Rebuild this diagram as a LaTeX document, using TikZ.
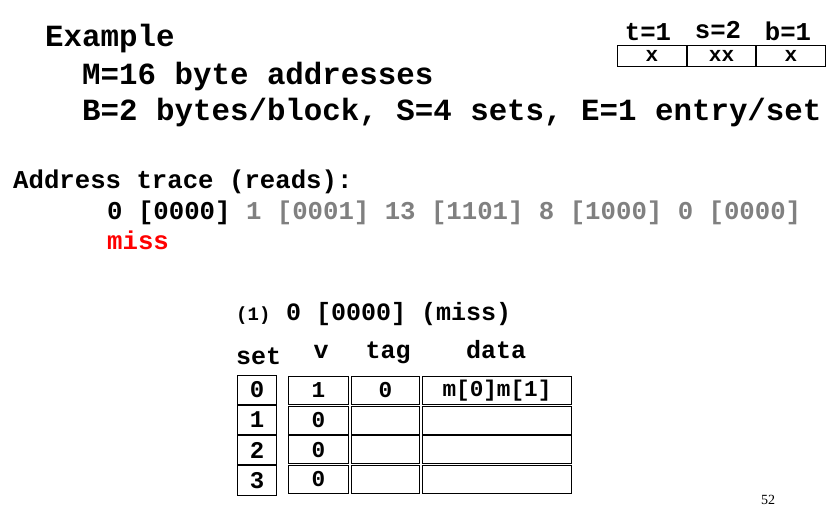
\documentclass[tikz,border=0pt]{standalone}
\usepackage{fontspec}
\setmainfont{Liberation Serif}
\setmonofont{Liberation Mono}
\usepackage{xcolor}
\usetikzlibrary{positioning}
\definecolor{tracegray}{RGB}{128,128,128}
\definecolor{missred}{RGB}{255,0,0}
\newcommand{\mono}[1]{\fontsize{#1}{#1}\selectfont\ttfamily\bfseries}
\tikzset{
  heading/.style={anchor=base west,inner sep=0pt,font=\mono{30.8}},
  trace/.style={anchor=base west,inner sep=0pt,font=\mono{25.7}},
  field/.style={draw,line width=1pt,inner sep=0pt,minimum height=21pt,font=\mono{21}},
  setcell/.style={draw,line width=1pt,inner sep=0pt,minimum width=39pt,minimum height=29.3pt,font=\mono{24}},
  cell/.style={draw,line width=1pt,inner sep=0pt,minimum height=28pt,font=\mono{22.7}}
}
\newcommand{\cacherow}[4]{%
  \node[cell,minimum width=60pt,anchor=north west] (v#1) at (288,{376+29.6*#1}) {#2};
  \node[cell,minimum width=68pt,right=2pt of v#1] (tag#1) {#3};
  \node[cell,minimum width=149pt,right=2pt of tag#1] (data#1) {#4};}

\begin{document}
\begin{tikzpicture}[x=1pt,y=-1pt]
  \useasboundingbox (0,0) rectangle (834,506);
  % headings
  \node[heading] (title) at (45,46) {Example};
  \node[heading] (mem) at (82,84) {M=16 byte addresses};
  \node[heading] (geom) at (82,120) {B=2 bytes/block, S=4 sets, E=1 entry/set};
  % address fields
  \node[field,minimum width=69pt,anchor=north west] (tbox) at (617,45) {x};
  \node[field,minimum width=68pt,right=0pt of tbox] (sbox) {xx};
  \node[field,minimum width=69pt,right=0pt of sbox] (bbox) {x};
  \node[trace,anchor=base] (tlab) at (648,40) {t=1};
  \node[trace,anchor=base] (slab) at (718,38) {s=2};
  \node[trace,anchor=base] (blab) at (788,40) {b=1};
  % trace
  \node[trace] (tracehead) at (13,188) {Address trace (reads):};
  \node[trace] (tracelist) at (107,219) {0 [0000] \textcolor{tracegray}{1 [0001] 13 [1101] 8 [1000] 0 [0000]}};
  \node[trace,text=missred] (miss) at (107,249) {miss};
  % step
  \node[trace,font=\mono{19}] (stepno) at (236,320) {(1)};
  \node[trace,font=\mono{25}] (stepaddr) at (286,320) {0 [0000] (miss)};
  \node[trace,font=\mono{25}] (sethead) at (236,364) {set};
  \node[trace,font=\mono{25},anchor=base] (vhead) at (321,358) {v};
  \node[trace,font=\mono{25},anchor=base] (taghead) at (388,358) {tag};
  \node[trace,font=\mono{25},anchor=base] (datahead) at (496,358) {data};
  % cache
  \node[setcell,anchor=north west] (set0) at (237,374.5) {0};
  \node[setcell,below=0pt of set0] (set1) {1};
  \node[setcell,below=0pt of set1] (set2) {2};
  \node[setcell,below=0pt of set2] (set3) {3};
  \cacherow{0}{1}{0}{m[0]m[1]}
  \cacherow{1}{0}{}{}
  \cacherow{2}{0}{}{}
  \cacherow{3}{0}{}{}
  \node[anchor=base,inner sep=0pt,font=\fontsize{14}{14}\selectfont] (page) at (768,504) {52};
\end{tikzpicture}
\end{document}
